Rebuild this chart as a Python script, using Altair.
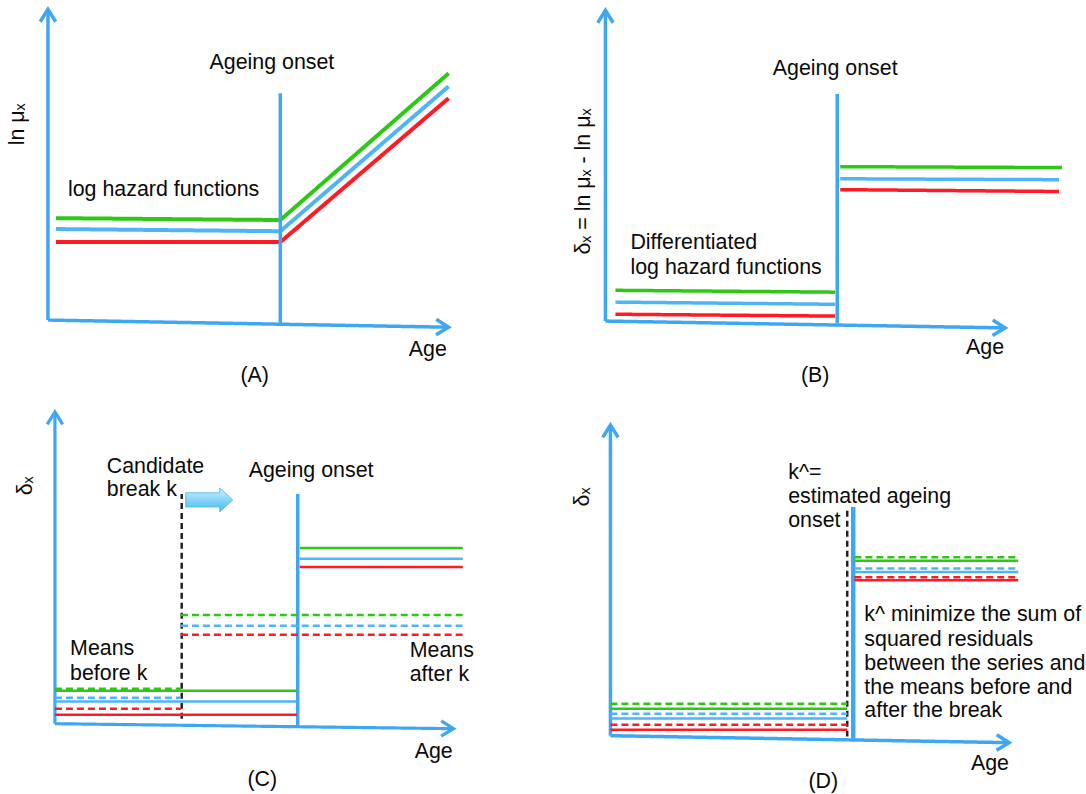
import altair as alt
import pandas as pd
import math

# ---------------- colours / fonts ----------------
AXIS = "#3fa6f2"
GREEN = "#2dc814"
BLUE = "#4db5f6"
RED = "#ff1a24"
INK = "#0a0a0a"
FONT = "Liberation Sans"
FS = 21.4

# ---------------- data (schematic units: axis length = 100) ----------------
# Panel A: log hazard functions
A_age = [2, 58, 100]
A_green = [32.8, 32.2, 79.4]
A_blue = [29.3, 28.6, 75.2]
A_red = [25.1, 25.1, 71.4]
A_onset = 58
A_onset_span = [-1.6, 73]
A_xaxis_end = -2.3

# Panel B: differentiated log hazard functions
B_age_before = [2.5, 57.5]
B_green_before = [9.9, 9.3]
B_blue_before = [6.1, 5.4]
B_red_before = [2.2, 1.6]
B_age_after_green = [58.75, 114.25]
B_age_after = [58.75, 113.5]
B_green_after = [49.7, 49.4]
B_blue_after = [45.8, 45.5]
B_red_after = [42.3, 41.7]
B_onset = 58
B_onset_span = [-0.6, 73.1]
B_xaxis_end = -2.2

# Panel C: candidate break k
C_onset = 60.9
C_onset_span = [-1, 73.7]
C_break = 31.8
C_break_span = [1.6, 73.7]
C_age_after_onset = [61.4, 102.3]
C_after_onset = {"green": 56.4, "blue": 52.9, "red": 50.3}
C_age_after_k = [31.6, 102.5]
C_after_k = {"green": 34.9, "blue": 31.4, "red": 28.5}
C_age_before_onset = [0, 60.7]
C_before_onset = {"green": 10.6, "blue": 7.1, "red": 2.9}
C_age_before_k = [0, 31.6]
C_before_k = {"green": 11.2, "blue": 8.3, "red": 4.8}
C_xaxis_end = -1.6
C_move_arrow = (38.7, 71.8)

# Panel D: estimated ageing onset
D_onset = 60.9
D_onset_span = [-1, 73.6]
D_break = 59.4
D_break_span = [-0.3, 72.7]
D_age_after = [61.2, 102.3]
D_after_solid = {"green": 56.3, "blue": 52.7, "red": 50.0}
D_after_dashed = {"green": 57.4, "blue": 53.8, "red": 51.0}
D_age_before = [0, 59.4]
D_before_solid = {"green": 8.7, "blue": 5.5, "red": 1.9}
D_before_dashed = {"green": 10.3, "blue": 7.1, "red": 3.5}
D_xaxis_end = -2.25

# Texts: (label, age, level, align)
A_texts = [("Ageing onset", 55.9, 82.6, "center"),
           ("log hazard functions", 5, 41.8, "left"),
           ("Age", 94.8, -9.6, "center"),
           ("(A)", 51.6, -18, "center")]
A_ylabel = ("ln μₓ", -7.5, 63)

B_texts = [("Ageing onset", 57.5, 81.1, "center"),
           ("Differentiated", 6.25, 25, "left"),
           ("log hazard functions", 6.25, 17, "left"),
           ("Age", 95, -8.7, "center"),
           ("(B)", 52.5, -17.6, "center")]
B_ylabel = ("δₓ = ln μₓ - ln μₓ", -5.25, 44.9)

C_texts = [("Candidate", 13, 82.4, "left"),
           ("break k", 13, 75, "left"),
           ("Ageing onset", 48.6, 81, "left"),
           ("Means", 3.8, 24, "left"),
           ("before k", 3.8, 16, "left"),
           ("Means", 89, 23.4, "left"),
           ("after k", 89, 15.7, "left"),
           ("Age", 95, -9, "center"),
           ("(C)", 52, -18, "center")]
C_ylabel = ("δₓ", -7.3, 76.3)

D_texts = [("k^=", 44.6, 84.6, "left"),
           ("estimated ageing", 44.6, 76.8, "left"),
           ("onset", 44.6, 69.1, "left"),
           ("k^ minimize the sum of", 63.7, 38.9, "left"),
           ("squared residuals", 63.7, 30.9, "left"),
           ("between the series and", 63.7, 23.2, "left"),
           ("the means before and", 63.7, 15.4, "left"),
           ("after the break", 63.7, 8.0, "left"),
           ("Age", 95.2, -9, "center"),
           ("(D)", 53.4, -14.8, "center")]
D_ylabel = ("δₓ", -7.0, 76.8)

# ---------------- layout (pixels) ----------------
W, H = 543, 397
COLORS = {"green": GREEN, "blue": BLUE, "red": RED, "axis": AXIS, "black": "#222222"}


def seg(rows, sid, name, ages, levels, dash, width):
    for i, (a, l) in enumerate(zip(ages, levels)):
        rows.append({"seg": sid, "i": i, "age": a, "level": l,
                     "color": COLORS[name], "dash": dash, "width": width})


def panel(layout, segs, texts, ylabel, xaxis_end, axis_w, extra=None):
    ox, oy, tx, ty = layout
    sx = (tx - ox) / 100.0
    sy = (oy - ty) / 100.0
    xs = alt.Scale(domain=[-ox / sx, (W - ox) / sx], nice=False, zero=False)
    ys = alt.Scale(domain=[-(H - oy) / sy, oy / sy], nice=False, zero=False)

    def X(f):
        return alt.X(f, scale=xs, axis=None)

    def Y(f):
        return alt.Y(f, scale=ys, axis=None)

    rows = []
    seg(rows, "xaxis", "axis", [0, 100], [0, xaxis_end], "solid", axis_w)
    seg(rows, "yaxis", "axis", [0, 0], [0, 100], "solid", axis_w)
    for k, s in enumerate(segs):
        seg(rows, f"s{k}", *s)
    df = pd.DataFrame(rows)

    lines = alt.Chart(df).mark_line(strokeCap="butt").encode(
        x=X("age:Q"), y=Y("level:Q"), detail="seg:N", order="i:Q",
        color=alt.Color("color:N", scale=None),
        strokeWidth=alt.StrokeWidth("width:Q", scale=None),
        strokeDash=alt.StrokeDash("dash:N", legend=None,
                                  scale=alt.Scale(domain=["solid", "dashed", "kdash"],
                                                  range=[[1, 0], [7, 4], [6, 4]])),
    )

    ang = math.degrees(math.atan2(-xaxis_end * sy, 100 * sx))
    heads = pd.DataFrame({"age": [0, 100], "level": [100, xaxis_end], "ang": [270, ang]})
    arrowheads = alt.Chart(heads).mark_point(
        shape="M-1,-0.62L0,0L-1,0.62", filled=False, size=620, stroke=AXIS,
        strokeWidth=axis_w, opacity=1
    ).encode(x=X("age:Q"), y=Y("level:Q"), angle=alt.Angle("ang:Q", scale=None))

    tdf = pd.DataFrame(texts, columns=["label", "age", "level", "align"])
    layers = [lines, arrowheads]
    for al in ["left", "center"]:
        sub = tdf[tdf["align"] == al]
        if len(sub):
            layers.append(alt.Chart(sub).mark_text(
                align=al, baseline="middle", font=FONT, fontSize=FS, color=INK
            ).encode(x=X("age:Q"), y=Y("level:Q"), text="label:N"))
    ydf = pd.DataFrame([ylabel], columns=["label", "age", "level"])
    layers.append(alt.Chart(ydf).mark_text(
        align="center", baseline="middle", font=FONT, fontSize=FS, color=INK, angle=270
    ).encode(x=X("age:Q"), y=Y("level:Q"), text="label:N"))
    if extra is not None:
        layers.append(extra(X, Y))
    return alt.layer(*layers).properties(width=W, height=H)


# ---- panel A ----
segA = [("green", A_age, A_green, "solid", 4),
        ("blue", A_age, A_blue, "solid", 4),
        ("red", A_age, A_red, "solid", 4),
        ("axis", [A_onset, A_onset], A_onset_span, "solid", 3.5)]
pA = panel((48, 320, 449, 9), segA, A_texts, A_ylabel, A_xaxis_end, 3.5)

# ---- panel B ----
segB = [("green", B_age_before, B_green_before, "solid", 3.5),
        ("blue", B_age_before, B_blue_before, "solid", 3.5),
        ("red", B_age_before, B_red_before, "solid", 3.5),
        ("green", B_age_after_green, B_green_after, "solid", 3.5),
        ("blue", B_age_after, B_blue_after, "solid", 3.5),
        ("red", B_age_after, B_red_after, "solid", 3.5),
        ("axis", [B_onset, B_onset], B_onset_span, "solid", 3.5)]
pB = panel((63, 321, 463, 10), segB, B_texts, B_ylabel, B_xaxis_end, 3.5)

# ---- panel C ----
segC = [("axis", [C_onset, C_onset], C_onset_span, "solid", 3.5),
        ("black", [C_break, C_break], C_break_span, "kdash", 2.5)]
for name in ["green", "blue", "red"]:
    segC.append((name, C_age_after_onset, [C_after_onset[name]] * 2, "solid", 2.5))
    segC.append((name, C_age_after_k, [C_after_k[name]] * 2, "dashed", 2.5))
    segC.append((name, C_age_before_onset, [C_before_onset[name]] * 2, "solid", 2.5))
    segC.append((name, C_age_before_k, [C_before_k[name]] * 2, "dashed", 2.5))


def move_arrow(X, Y):
    d = pd.DataFrame({"age": [C_move_arrow[0]], "level": [C_move_arrow[1]]})
    grad = alt.LinearGradient(
        gradient="linear", x1=0, y1=0, x2=0, y2=1,
        stops=[alt.GradientStop(offset=0, color="#d2f1fd"),
               alt.GradientStop(offset=0.45, color="#8fd8f8"),
               alt.GradientStop(offset=1, color="#45b8f0")])
    return alt.Chart(d).mark_point(
        shape="M-1,-0.3L0.45,-0.3L0.45,-0.51L1,0L0.45,0.51L0.45,0.3L-1,0.3Z",
        size=2209, filled=True, fill=grad, stroke="#5bbcf0", strokeWidth=1, opacity=1
    ).encode(x=X("age:Q"), y=Y("level:Q"))


pC = panel((55, 327, 454, 15), segC, C_texts, C_ylabel, C_xaxis_end, 3.2, extra=move_arrow)

# ---- panel D ----
segD = [("black", [D_break, D_break], D_break_span, "kdash", 2.5),
        ("axis", [D_onset, D_onset], D_onset_span, "solid", 4.5)]
for name in ["green", "blue", "red"]:
    segD.append((name, D_age_after, [D_after_dashed[name]] * 2, "dashed", 2.5))
    segD.append((name, D_age_after, [D_after_solid[name]] * 2, "solid", 2.5))
    segD.append((name, D_age_before, [D_before_dashed[name]] * 2, "dashed", 2.5))
    segD.append((name, D_age_before, [D_before_solid[name]] * 2, "solid", 2.5))
pD = panel((68, 339, 467, 28), segD, D_texts, D_ylabel, D_xaxis_end, 3.5)

chart = alt.vconcat(
    alt.hconcat(pA, pB, spacing=0),
    alt.hconcat(pC, pD, spacing=0),
    spacing=0,
).properties(
    padding=0, background="white"
).configure_view(stroke=None).configure_concat(spacing=0)

chart.save("out.html", embed_options={"renderer": "svg", "actions": False})
